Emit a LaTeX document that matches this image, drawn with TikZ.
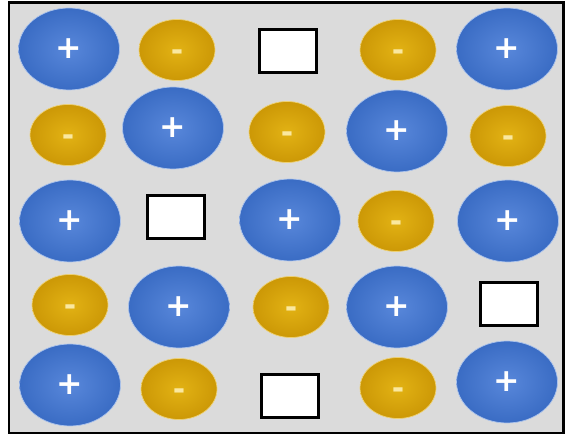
\documentclass[tikz,border=0pt]{standalone}
\usepackage{fontspec}
\newfontfamily\ionfont{DejaVu Sans}
\usetikzlibrary{shapes.geometric}
\definecolor{boxgray}{RGB}{219,219,219}
\definecolor{ionblue}{RGB}{58,108,196}
\definecolor{ionbluelight}{RGB}{88,135,218}
\definecolor{iongold}{RGB}{204,152,6}
\definecolor{iongoldlight}{RGB}{226,178,20}
\definecolor{minuscol}{RGB}{250,232,160}
\newcommand{\mns}{\smash{\raisebox{-6pt}{-}}}
\tikzset{
	cation/.style = {ellipse, minimum width = 2.02cm, minimum height = 1.64cm, inner sep = 0pt,
		draw = ionbluelight!50!white, line width = 0.4pt, inner color = ionbluelight, outer color = ionblue,
		text = white, font = \ionfont\bfseries\fontsize{18}{18}\selectfont},
	anion/.style = {ellipse, minimum width = 1.52cm, minimum height = 1.22cm, inner sep = 0pt,
		draw = iongoldlight!60!white, line width = 0.4pt, inner color = iongoldlight, outer color = iongold,
		text = minuscol, font = \ionfont\bfseries\fontsize{17}{17}\selectfont},
	vacancy/.style = {rectangle, minimum width = 1.15cm, minimum height = 0.86cm, fill = white,
		draw = black, line width = 1.6pt}
}
\begin{document}
\begin{tikzpicture} [x = 0.02cm, y = -0.02cm]
	\useasboundingbox (0,0) rectangle (567,438);
	\draw [line width = 1.7pt, fill = boxgray] (9,3) rectangle (563,433);
	% row 1
	\node [cation] (r1a) at (69,49) {+};
	\node [anion] (r1b) at (177,50) {\mns};
	\node [vacancy] (r1c) at (288,51) {};
	\node [anion] (r1d) at (398,50) {\mns};
	\node [cation] (r1e) at (507,49) {+};
	% row 2
	\node [anion] (r2a) at (68,135) {\mns};
	\node [cation] (r2b) at (173,128) {+};
	\node [anion] (r2c) at (287,132) {\mns};
	\node [cation] (r2d) at (397,131) {+};
	\node [anion] (r2e) at (508,136) {\mns};
	% row 3
	\node [cation] (r3a) at (70,221) {+};
	\node [vacancy] (r3b) at (176,217) {};
	\node [cation] (r3c) at (290,220) {+};
	\node [anion] (r3d) at (396,221) {\mns};
	\node [cation] (r3e) at (508,221) {+};
	% row 4
	\node [anion] (r4a) at (70,305) {\mns};
	\node [cation] (r4b) at (179,307) {+};
	\node [anion] (r4c) at (291,307) {\mns};
	\node [cation] (r4d) at (397,307) {+};
	\node [vacancy] (r4e) at (509,304) {};
	% row 5
	\node [cation] (r5a) at (70,385) {+};
	\node [anion] (r5b) at (179,389) {\mns};
	\node [vacancy] (r5c) at (290,396) {};
	\node [anion] (r5d) at (398,388) {\mns};
	\node [cation] (r5e) at (507,382) {+};
\end{tikzpicture}
\end{document}
